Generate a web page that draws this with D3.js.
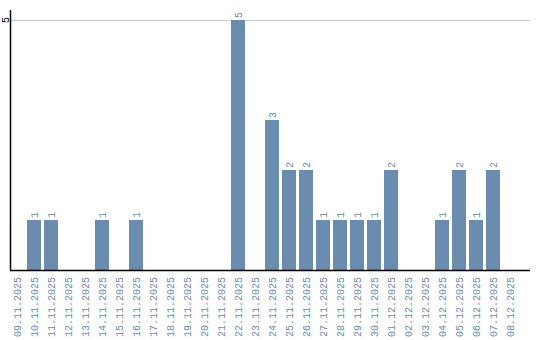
<!DOCTYPE html>
<html>
<head>
<meta charset="utf-8">
<script src="https://cdn.jsdelivr.net/npm/d3@7"></script>
<style>
  body { margin: 0; background: #fff; }
  text { font-family: "Liberation Mono", monospace; font-size: 10px; }
</style>
</head>
<body>
<svg width="540" height="340"></svg>
<script>
const dates = [
  "09.11.2025", "10.11.2025", "11.11.2025", "12.11.2025", "13.11.2025",
  "14.11.2025", "15.11.2025", "16.11.2025", "17.11.2025", "18.11.2025",
  "19.11.2025", "20.11.2025", "21.11.2025", "22.11.2025", "23.11.2025",
  "24.11.2025", "25.11.2025", "26.11.2025", "27.11.2025", "28.11.2025",
  "29.11.2025", "30.11.2025", "01.12.2025", "02.12.2025", "03.12.2025",
  "04.12.2025", "05.12.2025", "06.12.2025", "07.12.2025", "08.12.2025"
];
const counts = [0, 1, 1, 0, 0, 1, 0, 1, 0, 0, 0, 0, 0, 5, 0, 3, 2, 2, 1, 1, 1, 1, 2, 0, 0, 1, 2, 1, 2, 0];
const yTicks = [5];

const svg = d3.select("svg");
const barColor = "#6a8caf";

const x0 = 10, x1 = 530, yTop = 10, yBase = 270;

const xScale = d3.scaleBand()
  .domain(dates)
  .range([x0, 517])
  .paddingInner(3 / 17);

const yScale = d3.scaleLinear()
  .domain([0, 5])
  .range([yBase, 20]);

const data = dates.map((d, i) => ({ date: d, count: counts[i] }));

// grid
svg.append("g")
  .selectAll("line")
  .data(yTicks)
  .join("line")
  .attr("x1", x0).attr("x2", x1)
  .attr("y1", d => yScale(d)).attr("y2", d => yScale(d))
  .attr("stroke", "#cccccc")
  .attr("stroke-width", 1)
  .attr("shape-rendering", "crispEdges");

// bars
svg.append("g")
  .selectAll("rect")
  .data(data.filter(d => d.count > 0))
  .join("rect")
  .attr("x", d => xScale(d.date))
  .attr("y", d => yScale(d.count))
  .attr("width", xScale.bandwidth())
  .attr("height", d => yBase - yScale(d.count))
  .attr("fill", barColor);

// value labels
svg.append("g")
  .selectAll("text")
  .data(data.filter(d => d.count > 0))
  .join("text")
  .attr("transform", d => `translate(${xScale(d.date) + xScale.bandwidth() / 2},${yScale(d.count) - 2}) rotate(-90)`)
  .attr("dy", "0.35em")
  .attr("text-anchor", "start")
  .attr("fill", barColor)
  .text(d => d.count);

// x labels
svg.append("g")
  .selectAll("text")
  .data(dates)
  .join("text")
  .attr("transform", d => `translate(${xScale(d) + xScale.bandwidth() / 2},${yBase + 7}) rotate(-90)`)
  .attr("dy", "0.35em")
  .attr("text-anchor", "end")
  .attr("fill", barColor)
  .text(d => d);

// y tick labels
svg.append("g")
  .selectAll("text")
  .data(yTicks)
  .join("text")
  .attr("transform", d => `translate(5,${yScale(d)}) rotate(-90)`)
  .attr("dy", "0.35em")
  .attr("text-anchor", "middle")
  .attr("fill", "#000")
  .text(d => d);

// axes lines
svg.append("line")
  .attr("x1", x0 + 0.5).attr("x2", x0 + 0.5)
  .attr("y1", yTop).attr("y2", yBase)
  .attr("stroke", "#000").attr("stroke-width", 1.5);
svg.append("line")
  .attr("x1", x0).attr("x2", x1)
  .attr("y1", yBase + 0.5).attr("y2", yBase + 0.5)
  .attr("stroke", "#000").attr("stroke-width", 1.5);
</script>
</body>
</html>
